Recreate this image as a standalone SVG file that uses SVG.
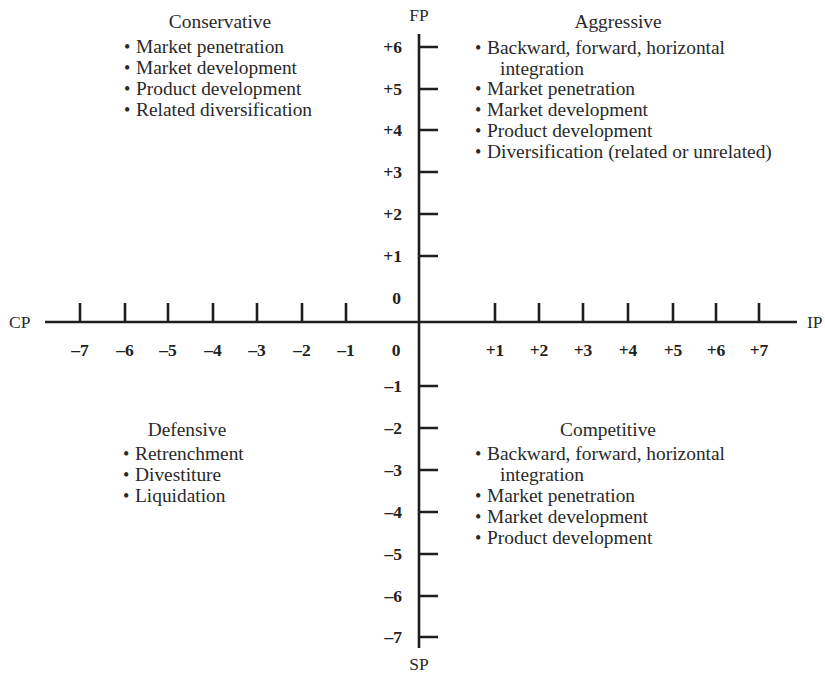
<svg xmlns="http://www.w3.org/2000/svg" width="825" height="675" viewBox="0 0 825 675">
<style>
.t{font-family:"Liberation Serif","Times New Roman",serif;font-size:19.4px;fill:#2a2a2a}
.b{font-size:18px}
.h{text-anchor:middle}
.l{font-family:"Liberation Serif","Times New Roman",serif;font-size:17.5px;fill:#2a2a2a}
.n{font-family:"Liberation Serif","Times New Roman",serif;font-size:17.5px;font-weight:bold;fill:#222}
.r{text-anchor:end}
.c{text-anchor:middle}
.ax{stroke:#1e1e1e;stroke-width:2.6;fill:none}
</style>
<rect width="825" height="675" fill="#fff"/>
<g id="axes">
<path class="ax" d="M419,34V648M45,322H797"/>
<path class="ax" d="M419,47H438M419,89H438M419,130H438M419,172H438M419,214H438M419,256H438M419,386H438M419,428H438M419,470H438M419,512H438M419,554H438M419,596H438M419,637H438"/>
<path class="ax" d="M80,322V303M125,322V303M168,322V303M213,322V303M257,322V303M302,322V303M346,322V303M495,322V303M539,322V303M583,322V303M628,322V303M673,322V303M716,322V303M759,322V303"/>
</g>
<g id="axis-labels">
<text class="l c" x="419" y="21">FP</text>
<text class="l c" x="419" y="670">SP</text>
<text class="l" x="9" y="328">CP</text>
<text class="l" x="807" y="328">IP</text>
</g>
<g id="y-scale">
<text class="n r" x="402" y="53">+6</text>
<text class="n r" x="402" y="95">+5</text>
<text class="n r" x="402" y="136">+4</text>
<text class="n r" x="402" y="178">+3</text>
<text class="n r" x="402" y="220">+2</text>
<text class="n r" x="402" y="262">+1</text>
<text class="n r" x="401" y="304">0</text>
<text class="n r" x="402" y="392">–1</text>
<text class="n r" x="402" y="434">–2</text>
<text class="n r" x="402" y="476">–3</text>
<text class="n r" x="402" y="518">–4</text>
<text class="n r" x="402" y="560">–5</text>
<text class="n r" x="402" y="602">–6</text>
<text class="n r" x="402" y="643">–7</text>
</g>
<g id="x-scale">
<text class="n c" x="80" y="356">–7</text>
<text class="n c" x="125" y="356">–6</text>
<text class="n c" x="168" y="356">–5</text>
<text class="n c" x="213" y="356">–4</text>
<text class="n c" x="257" y="356">–3</text>
<text class="n c" x="302" y="356">–2</text>
<text class="n c" x="346" y="356">–1</text>
<text class="n c" x="396" y="356">0</text>
<text class="n c" x="495" y="356">+1</text>
<text class="n c" x="539" y="356">+2</text>
<text class="n c" x="583" y="356">+3</text>
<text class="n c" x="628" y="356">+4</text>
<text class="n c" x="673" y="356">+5</text>
<text class="n c" x="716" y="356">+6</text>
<text class="n c" x="759" y="356">+7</text>
</g>
<g id="conservative">
<text class="t h" x="220" y="28">Conservative</text>
<text class="t" y="53"><tspan class="b" x="124">•</tspan><tspan x="136">Market penetration</tspan></text>
<text class="t" y="74"><tspan class="b" x="124">•</tspan><tspan x="136">Market development</tspan></text>
<text class="t" y="95"><tspan class="b" x="124">•</tspan><tspan x="136">Product development</tspan></text>
<text class="t" y="116"><tspan class="b" x="124">•</tspan><tspan x="136">Related diversification</tspan></text>
</g>
<g id="aggressive">
<text class="t h" x="618" y="28">Aggressive</text>
<text class="t" y="54"><tspan class="b" x="475">•</tspan><tspan x="487">Backward, forward, horizontal</tspan></text>
<text class="t" x="500" y="75">integration</text>
<text class="t" y="95"><tspan class="b" x="475">•</tspan><tspan x="487">Market penetration</tspan></text>
<text class="t" y="116"><tspan class="b" x="475">•</tspan><tspan x="487">Market development</tspan></text>
<text class="t" y="137"><tspan class="b" x="475">•</tspan><tspan x="487">Product development</tspan></text>
<text class="t" y="158"><tspan class="b" x="475">•</tspan><tspan x="487">Diversification (related or unrelated)</tspan></text>
</g>
<g id="defensive">
<text class="t h" x="187" y="436">Defensive</text>
<text class="t" y="460"><tspan class="b" x="123">•</tspan><tspan x="135">Retrenchment</tspan></text>
<text class="t" y="481"><tspan class="b" x="123">•</tspan><tspan x="135">Divestiture</tspan></text>
<text class="t" y="502"><tspan class="b" x="123">•</tspan><tspan x="135">Liquidation</tspan></text>
</g>
<g id="competitive">
<text class="t h" x="608" y="436">Competitive</text>
<text class="t" y="460"><tspan class="b" x="475">•</tspan><tspan x="487">Backward, forward, horizontal</tspan></text>
<text class="t" x="500" y="481">integration</text>
<text class="t" y="502"><tspan class="b" x="475">•</tspan><tspan x="487">Market penetration</tspan></text>
<text class="t" y="523"><tspan class="b" x="475">•</tspan><tspan x="487">Market development</tspan></text>
<text class="t" y="544"><tspan class="b" x="475">•</tspan><tspan x="487">Product development</tspan></text>
</g>
</svg>
